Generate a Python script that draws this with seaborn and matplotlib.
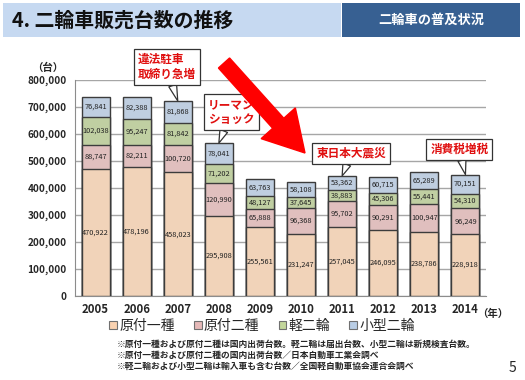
import numpy as np
import pandas as pd
import matplotlib
matplotlib.use("Agg")
import matplotlib.pyplot as plt
from matplotlib.patches import Patch, Rectangle, FancyArrow
from matplotlib.ticker import FuncFormatter, MultipleLocator
import seaborn as sns

# --- datos ---
anios = ["2005", "2006", "2007", "2008", "2009", "2010", "2011", "2012", "2013", "2014"]
gentsuki1 = [470922, 478196, 458023, 295908, 255561, 231247, 257045, 246095, 238786, 228918]
gentsuki2 = [88747, 82211, 100720, 120990, 65888, 96368, 95702, 90291, 100947, 96249]
kei_nirin = [102038, 95247, 81842, 71202, 48127, 37645, 38883, 45306, 55441, 54310]
kogata = [76841, 82388, 81868, 78041, 63763, 58108, 53362, 60715, 65289, 70151]

series = ["原付一種", "原付二種", "軽二輪", "小型二輪"]
colores = ["#FAD2B0", "#E6B9B8", "#C3D69B", "#B9CDE5"]

# callouts: (texto, indice del año)
callouts = [("違法駐車\n取締り急増", 2), ("リーマン\nショック", 3),
            ("東日本大震災", 6), ("消費税増税", 9)]

notas = [
    "※原付一種および原付二種は国内出荷台数。軽二輪は届出台数、小型二輪は新規検査台数。",
    "※原付一種および原付二種の国内出荷台数／日本自動車工業会調べ",
    "※軽二輪および小型二輪は輸入車も含む台数／全国軽自動車協会連合会調べ",
]

sns.set_style("white")
plt.rcParams["font.family"] = ["Noto Sans CJK JP", "DejaVu Sans"]

df = pd.DataFrame({"anio": anios, series[0]: gentsuki1, series[1]: gentsuki2,
                   series[2]: kei_nirin, series[3]: kogata})
acum = df[series].cumsum(axis=1)

fig = plt.figure(figsize=(5.25, 3.8), dpi=100)
ax = fig.add_axes([75 / 525, 1 - 296 / 380, 411 / 525, 216 / 380])

# barras apiladas: dibujar de la más alta a la más baja
for s, c in reversed(list(zip(series, colores))):
    sns.barplot(x=df["anio"], y=acum[s], color=c, edgecolor="#3C3C3C",
                linewidth=1.0, width=0.68, errorbar=None, ax=ax, zorder=3)

# etiquetas de valores
for i in range(len(anios)):
    base = 0
    for s in series:
        v = df[s].iloc[i]
        ax.text(i, base + v / 2, f"{v:,}", ha="center", va="center",
                fontsize=5.3, color="#222222", zorder=4)
        base += v

ax.set_ylim(0, 800000)
ax.set_xlim(-0.5, len(anios) - 0.5)
ax.yaxis.set_major_locator(MultipleLocator(100000))
ax.yaxis.set_major_formatter(FuncFormatter(lambda v, p: f"{int(v):,}"))
ax.grid(axis="y", color="#A6A6A6", linewidth=1.0, zorder=0)
ax.set_axisbelow(True)
ax.set_xlabel("")
ax.set_ylabel("")
for sp in ["top", "right"]:
    ax.spines[sp].set_visible(False)
for sp in ["left", "bottom"]:
    ax.spines[sp].set_color("#8C8C8C")
ax.tick_params(axis="y", length=4, color="#8C8C8C", labelsize=7.2, pad=2)
ax.tick_params(axis="x", length=0, labelsize=8.2, pad=5)
ax.set_xticks(np.arange(-0.5, len(anios), 1), minor=True)
ax.tick_params(axis="x", which="minor", length=3, direction="in", color="#8C8C8C")
for t in ax.get_yticklabels() + ax.get_xticklabels():
    t.set_fontweight("bold")

fig.text(48 / 525, 1 - 68 / 380, "（台）", fontsize=7.5, fontweight="bold",
         ha="center", va="center")
fig.text(493 / 525, 1 - 314 / 380, "（年）", fontsize=7.5, fontweight="bold",
         ha="center", va="center")

# callouts con globo
pos_texto = {2: (1.73, 848000), 3: (3.30, 680000), 6: (6.22, 528000), 9: (8.85, 543000)}
for texto, i in callouts:
    total = acum[series[-1]].iloc[i]
    tx, ty = pos_texto[i]
    ax.annotate(texto, xy=(i, total), xytext=(tx, ty), textcoords="data",
                ha="center", va="center", multialignment="left",
                fontsize=8.4, fontweight="bold", color="#E01010",
                linespacing=1.2, annotation_clip=False, zorder=6,
                bbox=dict(boxstyle="square,pad=0.35", fc="white", ec="#333333", lw=0.9),
                arrowprops=dict(arrowstyle="wedge,tail_width=0.7,shrink_factor=0.5",
                                fc="white", ec="#333333", lw=0.9,
                                shrinkA=0, shrinkB=0))

# flecha roja grande
flecha = FancyArrow(2.24, 3.80 - 0.63, 0.81, -0.90, width=0.15, head_width=0.46,
                    head_length=0.40, length_includes_head=True,
                    color="#FF0000", transform=fig.dpi_scale_trans, zorder=10)
fig.add_artist(flecha)

# cabecera
fig.add_artist(Rectangle((3 / 525, 1 - 37 / 380), 338 / 525, 34 / 380,
                         transform=fig.transFigure, fc="#C6D9F1", ec="none", zorder=0))
fig.add_artist(Rectangle((342 / 525, 1 - 37 / 380), 178 / 525, 34 / 380,
                         transform=fig.transFigure, fc="#376092", ec="none", zorder=0))
fig.text(12 / 525, 1 - 20 / 380, "4. 二輪車販売台数の推移", fontsize=14.3,
         fontweight="bold", color="#111111", ha="left", va="center")
fig.text(431 / 525, 1 - 20 / 380, "二輪車の普及状況", fontsize=9.5,
         fontweight="bold", color="white", ha="center", va="center")

# leyenda
handles = [Patch(facecolor=c, edgecolor="#707070", linewidth=0.8) for c in colores]
fig.legend(handles, series, loc="center", bbox_to_anchor=(262 / 525, 1 - 326 / 380),
           ncol=4, frameon=False, fontsize=10, handlelength=0.55, handleheight=0.55,
           handletextpad=0.15, columnspacing=1.4)

for k, n in enumerate(notas):
    fig.text(117 / 525, 1 - (344 + k * 11) / 380, n, fontsize=6.3,
             fontweight="bold", ha="left", va="center")

fig.text(512 / 525, 1 - 368 / 380, "5", fontsize=10, ha="center", va="center")

fig.savefig("out.png", dpi=100)
